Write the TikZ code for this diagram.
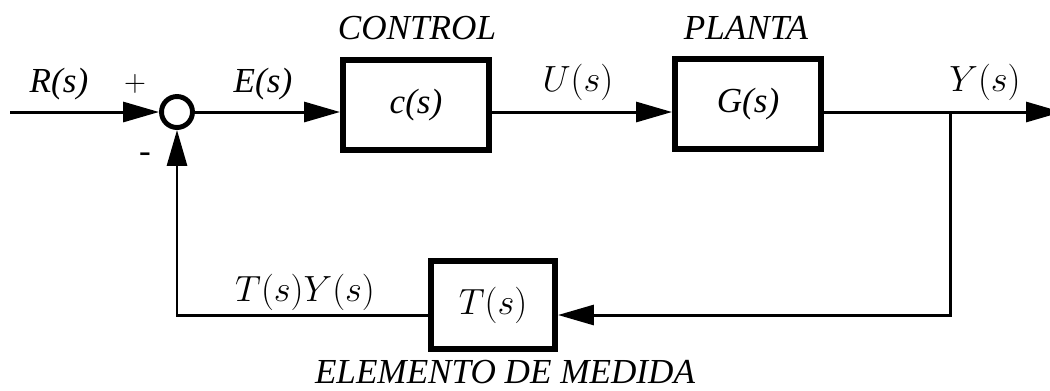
\documentclass[tikz,border=0pt]{standalone}
\usepackage{fontspec}
\newfontfamily\blockfont{Liberation Serif}
\usepackage{tikz}
\usetikzlibrary{positioning, arrows.meta}

\begin{document}
\begin{tikzpicture}
                [
                x=0.02cm, y=-0.02cm,
                every node/.style={font=\blockfont\fontsize{20}{24}\selectfont},
                block/.style={rectangle,draw,line width=3.4pt,minimum width=2.92cm,minimum height=1.8cm,inner sep=0pt},
                summer/.style={circle,draw,line width=2.8pt,minimum size=0.62cm,inner sep=0pt},
                lbl/.style={inner sep=0pt},
                edge/.style={line width=1.7pt,-{Triangle[length=7.2mm,width=4mm]}},
                wire/.style={line width=1.7pt}
                ]
            \useasboundingbox (0,0) rectangle (1050,390);
            \node[summer] (sum) at (177,112) {};
            \node[block] (c) at (416,105) {\itshape c(s)};
            \node[block] (G) at (748,104) {\itshape G(s)};
            \node[block,minimum width=2.48cm,minimum height=1.76cm] (T) at (493,305) {$T(s)$};
            \coordinate (in) at (10,112);
            \coordinate (branch) at (950,112);
            \coordinate (out) at (1062,112);
            \coordinate (corner) at (950,315);
            % labels
            \node[lbl] (R) at (59,84) {\itshape R(s)};
            \node[lbl,font=\blockfont\fontsize{17}{20}\selectfont] (plus) at (135,84) {$+$};
            \node[lbl] (minus) at (145,158) {-};
            \node[lbl] (E) at (263,84) {\itshape E(s)};
            \node[lbl] (U) at (578,82) {$U(s)$};
            \node[lbl] (Y) at (985,82) {$Y(s)$};
            \node[lbl] (TY) at (305,292) {$T(s)Y(s)$};
            \node[lbl] (ctl) at (417,28) {\itshape CONTROL};
            \node[lbl] (pla) at (746,28) {\itshape PLANTA};
            \node[lbl] (med) at (505,372) {\itshape ELEMENTO DE MEDIDA};
            % connectors
            \draw[edge] (in) -- (sum.west);
            \draw[edge] (sum.east) -- (sum -| c.west);
            \draw[edge] (sum -| c.east) -- (sum -| G.west);
            \draw[edge] (sum -| G.east) -- (out);
            \draw[edge] (branch) -- (corner) -- (corner -| T.east);
            \draw[wire] (corner -| T.west) -- (corner -| sum) -- (sum |- 0,165);
            \draw[edge] (sum |- 0,166) -- (sum.south);
            \end{tikzpicture}
\end{document}
